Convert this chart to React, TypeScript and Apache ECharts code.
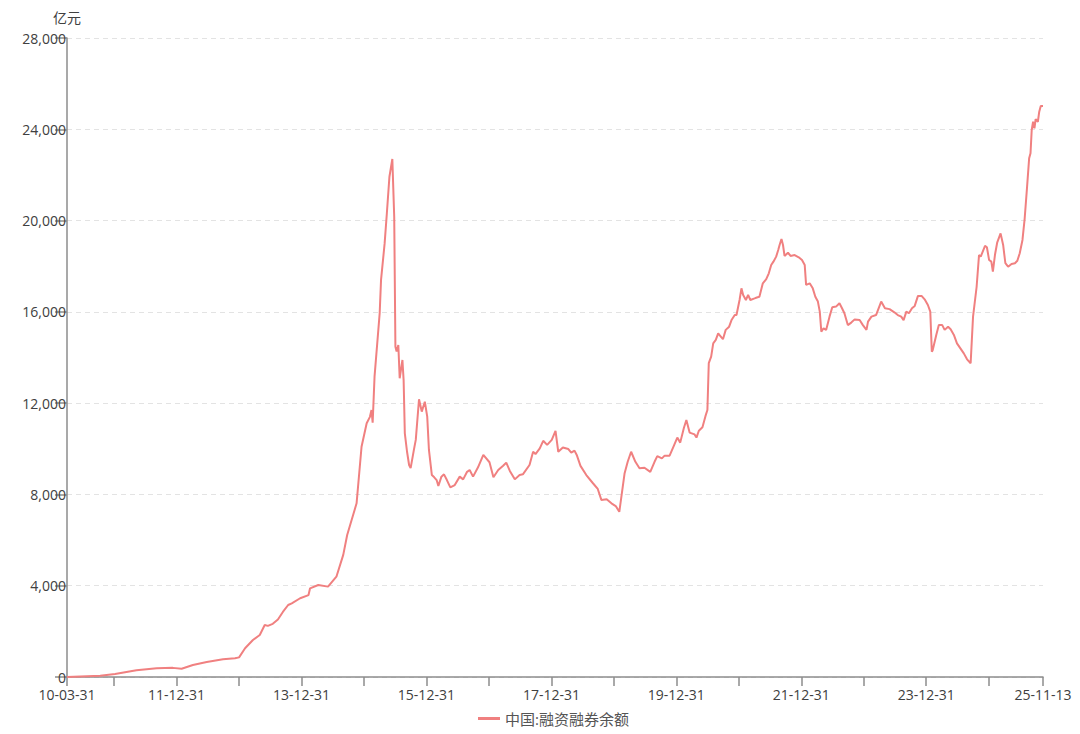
import React, { useEffect, useRef } from "react";
import * as echarts from "echarts";

const seriesName = "中国:融资融券余额";
const yAxisName = "亿元";

const dates: string[] = [
  "2010-03-31", "2010-10-11", "2011-01-06", "2011-05-11", "2011-09-06", "2011-12-10", "2012-01-30",
  "2012-04-05", "2012-06-25", "2012-09-28", "2012-12-07", "2012-12-31", "2013-02-04", "2013-03-22",
  "2013-05-01", "2013-05-30", "2013-06-17", "2013-07-16", "2013-08-15", "2013-09-13", "2013-10-14",
  "2013-11-04", "2013-12-23", "2014-02-10", "2014-02-19", "2014-04-08", "2014-06-04", "2014-07-23",
  "2014-09-01", "2014-09-24", "2014-10-20", "2014-11-18", "2014-12-17", "2015-01-16", "2015-02-04",
  "2015-02-13", "2015-02-20", "2015-03-03", "2015-04-02", "2015-04-10", "2015-05-01", "2015-05-14",
  "2015-05-29", "2015-06-15", "2015-06-26", "2015-07-03", "2015-07-10", "2015-07-20", "2015-07-28",
  "2015-08-13", "2015-08-20", "2015-08-27", "2015-09-09", "2015-09-21", "2015-09-30", "2015-10-19",
  "2015-10-30", "2015-11-18", "2015-12-04", "2015-12-22", "2016-01-05", "2016-01-15", "2016-02-01",
  "2016-02-15", "2016-02-29", "2016-03-10", "2016-03-28", "2016-04-12", "2016-04-29", "2016-05-19",
  "2016-06-14", "2016-07-13", "2016-08-02", "2016-08-25", "2016-09-09", "2016-09-29", "2016-10-28",
  "2016-11-28", "2017-01-03", "2017-01-26", "2017-02-23", "2017-03-22", "2017-04-11", "2017-05-02",
  "2017-05-31", "2017-06-28", "2017-07-17", "2017-08-25", "2017-09-15", "2017-09-29", "2017-10-24",
  "2017-11-13", "2017-12-06", "2018-01-02", "2018-01-24", "2018-02-09", "2018-03-08", "2018-04-09",
  "2018-04-26", "2018-05-15", "2018-05-28", "2018-06-19", "2018-07-23", "2018-08-31", "2018-09-28",
  "2018-10-19", "2018-11-19", "2018-12-17", "2019-01-11", "2019-02-01", "2019-03-04", "2019-03-22",
  "2019-04-11", "2019-05-06", "2019-05-30", "2019-06-28", "2019-08-01", "2019-08-26", "2019-09-11",
  "2019-10-08", "2019-10-24", "2019-11-22", "2019-12-16", "2020-01-06", "2020-01-23", "2020-02-13",
  "2020-02-28", "2020-03-18", "2020-04-16", "2020-04-27", "2020-05-11", "2020-06-01", "2020-06-19",
  "2020-06-30", "2020-07-08", "2020-07-22", "2020-08-03", "2020-08-18", "2020-09-01", "2020-09-14",
  "2020-09-29", "2020-10-15", "2020-11-04", "2020-11-18", "2020-12-07", "2020-12-17", "2021-01-04",
  "2021-01-15", "2021-01-25", "2021-02-10", "2021-02-23", "2021-03-08", "2021-04-02", "2021-04-15",
  "2021-04-30", "2021-05-20", "2021-06-09", "2021-06-24", "2021-07-08", "2021-07-21", "2021-08-06",
  "2021-08-18", "2021-08-26", "2021-09-06", "2021-09-15", "2021-09-24", "2021-10-14", "2021-10-29",
  "2021-11-22", "2021-12-16", "2022-01-04", "2022-01-20", "2022-01-28", "2022-02-18", "2022-03-08",
  "2022-03-23", "2022-04-07", "2022-04-18", "2022-04-27", "2022-05-10", "2022-05-25", "2022-06-14",
  "2022-06-30", "2022-07-22", "2022-08-11", "2022-08-26", "2022-09-09", "2022-09-29", "2022-10-19",
  "2022-11-08", "2022-12-07", "2022-12-26", "2023-01-16", "2023-01-25", "2023-02-14", "2023-03-13",
  "2023-04-12", "2023-05-04", "2023-05-31", "2023-06-28", "2023-07-18", "2023-08-07", "2023-08-21",
  "2023-09-06", "2023-09-21", "2023-10-09", "2023-10-25", "2023-11-13", "2023-12-04", "2023-12-22",
  "2024-01-10", "2024-01-24", "2024-02-02", "2024-02-07", "2024-02-28", "2024-03-14", "2024-04-03",
  "2024-04-17", "2024-05-07", "2024-05-22", "2024-06-10", "2024-06-28", "2024-07-18", "2024-08-07",
  "2024-08-26", "2024-09-16", "2024-09-30", "2024-10-21", "2024-11-04", "2024-11-14", "2024-12-09",
  "2024-12-20", "2025-01-02", "2025-01-15", "2025-01-24", "2025-02-05", "2025-02-18", "2025-03-10",
  "2025-03-25", "2025-04-07", "2025-04-23", "2025-05-13", "2025-06-02", "2025-06-16", "2025-06-30",
  "2025-07-16", "2025-07-29", "2025-08-12", "2025-08-24", "2025-09-01", "2025-09-08", "2025-09-16",
  "2025-09-24", "2025-10-01", "2025-10-14", "2025-10-22", "2025-10-31", "2025-11-13",
];

const balances: number[] = [
  0, 50, 130, 300, 380, 400, 360,
  525, 657, 775, 820, 860, 1257, 1620,
  1840, 2280, 2240, 2330, 2520, 2850, 3155,
  3230, 3450, 3590, 3885, 4030, 3960, 4395,
  5350, 6220, 6880, 7610, 10090, 11120, 11400,
  11700, 11140, 13160, 15940, 17400, 19000, 20320,
  21920, 22700, 20170, 14470, 14260, 14550, 13090,
  13890, 13010, 10680, 9870, 9290, 9150, 9950,
  10390, 12170, 11630, 12060, 11410, 9950, 8850,
  8750, 8630, 8370, 8780, 8880, 8630, 8310,
  8410, 8780, 8660, 8990, 9070, 8780, 9190,
  9730, 9410, 8750, 9070, 9250, 9390, 9030,
  8660, 8850, 8880, 9290, 9870, 9770, 10020,
  10350, 10170, 10390, 10790, 9870, 10060, 9990,
  9830, 9920, 9730, 9250, 8850, 8490, 8240,
  7760, 7790, 7610, 7490, 7240, 8930, 9430,
  9870, 9430, 9150, 9170, 8990, 9430, 9680,
  9580, 9700, 9700, 10120, 10490, 10270, 10900,
  11260, 10710, 10630, 10490, 10790, 10940, 11440,
  11700, 13750, 14040, 14620, 14770, 15060, 14940,
  14800, 15210, 15350, 15640, 15860, 15860, 16520,
  17030, 16740, 16520, 16740, 16520, 16590, 16630,
  16660, 17250, 17430, 17690, 18050, 18200, 18420,
  18710, 18930, 19190, 18930, 18450, 18590, 18450,
  18490, 18390, 18270, 18050, 17180, 17250, 17030,
  16660, 16450, 16010, 15130, 15280, 15210, 15790,
  16200, 16230, 16380, 16160, 15940, 15420, 15530,
  15670, 15640, 15420, 15210, 15570, 15790, 15860,
  16450, 16160, 16120, 15980, 15860, 15790, 15640,
  16010, 15940, 16160, 16260, 16700, 16700, 16550,
  16300, 16010, 14250, 14320, 14990, 15420, 15420,
  15210, 15350, 15240, 14990, 14620, 14400, 14180,
  13920, 13750, 15790, 17100, 18490, 18420, 18890,
  18830, 18270, 18200, 17760, 18490, 19030, 19440,
  18930, 18130, 17980, 18100, 18130, 18240, 18570,
  19150, 20100, 21490, 22730, 22950, 23970, 24330,
  24040, 24440, 24330, 24770, 25020, 25020,
];

const axisStart = "2010-03-31";
const axisEnd = "2025-11-13";
const tickDates: string[] = [
  "2010-03-31", "2010-12-31", "2011-12-31", "2012-12-31", "2013-12-31", "2014-12-31",
  "2015-12-31", "2016-12-31", "2017-12-31", "2018-12-31", "2019-12-31", "2020-12-31",
  "2021-12-31", "2022-12-31", "2023-12-31", "2024-12-31", "2025-11-13",
];
const labelDates: string[] = [
  "2010-03-31", "2011-12-31", "2013-12-31", "2015-12-31", "2017-12-31",
  "2019-12-31", "2021-12-31", "2023-12-31", "2025-11-13",
];

const DAY = 86400000;
function ts(s: string): number {
  const [y, m, d] = s.split("-").map(Number);
  return Math.round(Date.UTC(y, m - 1, d) / DAY);
}
function fmt(v: number): string {
  const d = new Date(Math.round(v) * DAY);
  const p = (n: number) => (n < 10 ? "0" + n : "" + n);
  return p(d.getUTCFullYear() % 100) + "-" + p(d.getUTCMonth() + 1) + "-" + p(d.getUTCDate());
}

const FONT = "'Open Sans', 'Noto Sans CJK SC', sans-serif";
const AXIS_COLOR = "#8c8c8c";
const LABEL_COLOR = "#404040";

export default function App() {
  const ref = useRef<HTMLDivElement>(null);
  useEffect(() => {
    if (!ref.current) return;
    const chart = echarts.init(ref.current, undefined, { renderer: "svg" });
    chart.setOption({
      animation: false,
      textStyle: { fontFamily: FONT },
      grid: { left: 67, right: 37, top: 38, bottom: 57, containLabel: false },
      legend: {
        data: [seriesName],
        icon: "rect",
        left: 473,
        top: 706,
        itemWidth: 22,
        itemHeight: 3,
        itemGap: 5,
        textStyle: { color: "#555", fontSize: 15, fontFamily: FONT },
      },
      xAxis: {
        type: "value",
        min: ts(axisStart),
        max: ts(axisEnd),
        scale: true,
        axisLine: { show: true, lineStyle: { color: AXIS_COLOR, width: 1.5 } },
        axisTick: {
          show: true,
          length: 9,
          customValues: tickDates.map(ts),
          lineStyle: { color: AXIS_COLOR, width: 1.5 },
        },
        axisLabel: {
          customValues: labelDates.map(ts),
          formatter: (v: number) => fmt(v),
          color: LABEL_COLOR,
          fontSize: 14,
          margin: 10,
          fontFamily: FONT,
        },
        splitLine: { show: false },
      },
      yAxis: {
        type: "value",
        min: 0,
        max: 28000,
        interval: 4000,
        name: yAxisName,
        nameLocation: "end",
        nameGap: 14,
        nameTextStyle: { color: LABEL_COLOR, fontSize: 14, fontFamily: FONT },
        axisLine: { show: true, lineStyle: { color: AXIS_COLOR, width: 1.5 } },
        axisTick: { show: true, length: 12, lineStyle: { color: AXIS_COLOR, width: 1.5 } },
        axisLabel: { color: LABEL_COLOR, fontSize: 14, margin: 1, fontFamily: FONT },
        splitLine: { show: true, lineStyle: { color: "#e3e3e3", type: [5, 4], width: 1 } },
      },
      series: [
        {
          name: seriesName,
          type: "line",
          data: dates.map((d, i) => [ts(d), balances[i]]),
          showSymbol: false,
          symbol: "none",
          lineStyle: { color: "#f08080", width: 2 },
          itemStyle: { color: "#f08080" },
        },
      ],
    });
    return () => chart.dispose();
  }, []);
  return (
    <div
      ref={ref}
      style={{ position: "fixed", left: 0, top: 0, width: 1080, height: 734, background: "#fff" }}
    />
  );
}
